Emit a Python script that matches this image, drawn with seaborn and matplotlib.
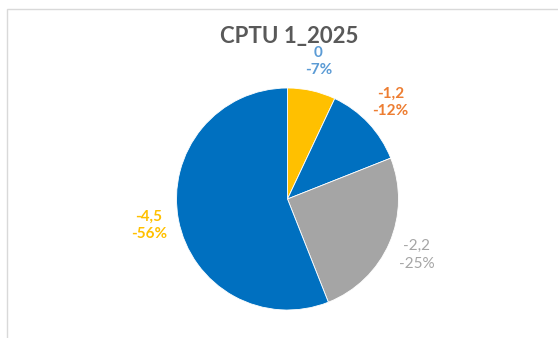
import matplotlib
matplotlib.use("Agg")
import matplotlib.pyplot as plt
import seaborn as sns
from matplotlib.patches import Rectangle

# Depth classes and their share of the profile
categories = ["0", "-1,2", "-2,2", "-4,5"]
shares = [-7, -12, -25, -56]
slice_colors = ["#FFC000", "#0070C0", "#A5A5A5", "#0070C0"]
label_colors = ["#5B9BD5", "#ED7D31", "#A5A5A5", "#FFC000"]
label_weights = ["bold", "bold", "normal", "bold"]
title = "CPTU 1_2025"

sns.set_theme(style="white")
plt.rcParams["font.family"] = ["Lato", "DejaVu Sans"]

W, H = 558, 338
fig = plt.figure(figsize=(W / 100, H / 100), dpi=100)
fig.patch.set_facecolor("white")

# chart frame (only top and left edges fall inside the canvas)
fig.patches.append(Rectangle((7 / W, -0.1), 1.2, 1 - 9 / H + 0.1,
                             transform=fig.transFigure, fill=False,
                             edgecolor="#D9D9D9", linewidth=1.0))

cx, cy, r = 287.5, 199, 111
ax = fig.add_axes([(cx - r) / W, (H - cy - r) / H, 2 * r / W, 2 * r / H])
ax.set_facecolor("none")

labels = [f"{c}\n{s}%" for c, s in zip(categories, shares)]
wedges, texts = ax.pie([abs(s) for s in shares], labels=labels,
                       colors=slice_colors, startangle=90, counterclock=False,
                       labeldistance=1.27, radius=1.0,
                       wedgeprops=dict(edgecolor="white", linewidth=0.6))
for t, col, wt in zip(texts, label_colors, label_weights):
    t.set_color(col)
    t.set_ha("center")
    t.set_va("center")
    t.set_fontsize(11)
    t.set_fontweight(wt)
    t.set_linespacing(1.35)
    t.set_clip_on(False)

ax.set_xlim(-1, 1)
ax.set_ylim(-1, 1)
ax.set_aspect("auto")
ax.axis("off")

fig.text(289 / W, 1 - 37 / H, title, ha="center", va="center",
         fontsize=16, fontweight="bold", color="#595959")

fig.savefig("out.png", dpi=100)
